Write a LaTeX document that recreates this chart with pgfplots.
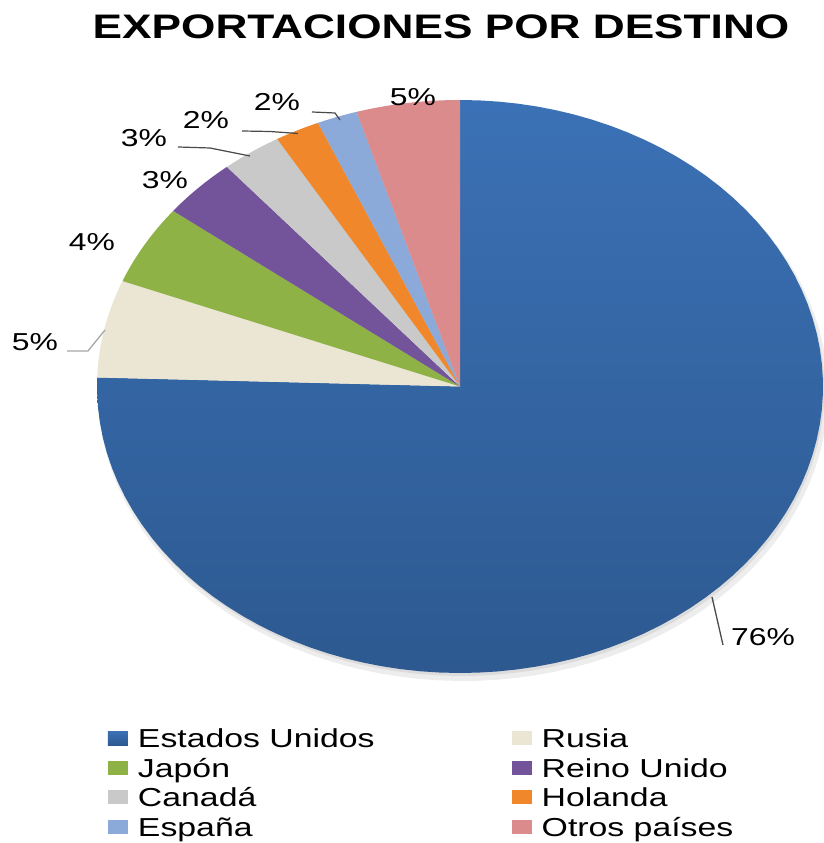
\documentclass[border=0pt]{standalone}
\usepackage{fontspec}
\setmainfont{Liberation Sans}[FakeStretch=1.3]
\usepackage{pgfplots}
\pgfplotsset{compat=1.18}

\definecolor{cUS}{HTML}{3B71B6}
\definecolor{cUSd}{HTML}{2D5990}
\definecolor{cRU}{HTML}{EAE6D3}
\definecolor{cJP}{HTML}{8EB246}
\definecolor{cUK}{HTML}{73549A}
\definecolor{cCA}{HTML}{C9C9C9}
\definecolor{cHO}{HTML}{F0872B}
\definecolor{cES}{HTML}{8BA9D9}
\definecolor{cOT}{HTML}{DB8B8B}
\definecolor{lead}{HTML}{4A4A4A}

% shares of the slices (percent), clockwise from 12 o'clock
\def\vUS{75.5}
\def\vRU{5.5}
\def\vJP{4.5}
\def\vUK{3.4}
\def\vCA{2.7}
\def\vHO{2.0}
\def\vES{1.8}
\def\vOT{4.6}

\pgfmathsetmacro\aO{90}
\pgfmathsetmacro\aA{\aO-3.6*\vUS}
\pgfmathsetmacro\aB{\aA-3.6*\vRU}
\pgfmathsetmacro\aC{\aB-3.6*\vJP}
\pgfmathsetmacro\aD{\aC-3.6*\vUK}
\pgfmathsetmacro\aE{\aD-3.6*\vCA}
\pgfmathsetmacro\aF{\aE-3.6*\vHO}
\pgfmathsetmacro\aG{\aF-3.6*\vES}
\pgfmathsetmacro\aH{\aG-3.6*\vOT}

\def\cx{460}
\def\cy{456.5}
\def\rx{363}
\def\ry{286.5}

\newcommand\slice[3]{%
  \addplot[#1, draw=none, domain=#3:#2, samples=90, variable=\t]
    ({\cx+\rx*cos(\t)},{\cy+\ry*sin(\t)}) -- (axis cs:\cx,\cy) -- cycle;}

\begin{document}
\begin{tikzpicture}
\begin{axis}[
  at={(0,0)}, anchor=south west,
  scale only axis, width=823pt, height=843pt,
  xmin=0, xmax=823, ymin=0, ymax=843,
  hide axis, clip=false,
  legend columns=2,
  legend cell align=left,
  legend image code/.code={\fill[#1] (0pt,-7pt) rectangle (20pt,7pt);},
  legend style={at={(0.1312,0.1353)}, anchor=north west,
    draw=none, fill=none, inner sep=0pt, outer sep=0pt,
    row sep=10.9pt,
    nodes={inner sep=0pt, text height=18.6pt, text depth=0pt,
      font=\fontsize{26}{30}\selectfont},
    /tikz/every odd column/.append style={column sep=10pt},
    /tikz/every even column/.append style={column sep=137pt}},
]
% soft shadow
\addplot[forget plot, fill=black, fill opacity=0.07, draw=none, domain=0:360, samples=120, variable=\t]
  ({\cx+3+(\rx+2)*cos(\t)},{\cy-6+(\ry+2)*sin(\t)}) -- cycle;
\addplot[forget plot, fill=black, fill opacity=0.07, draw=none, domain=0:360, samples=120, variable=\t]
  ({\cx+1.5+\rx*cos(\t)},{\cy-3+\ry*sin(\t)}) -- cycle;

\slice{top color=cUS, bottom color=cUSd}{\aO}{\aA}
\addlegendentry{Estados Unidos}
\slice{fill=cRU}{\aA}{\aB}
\addlegendentry{Rusia}
\slice{fill=cJP}{\aB}{\aC}
\addlegendentry{Japón}
\slice{fill=cUK}{\aC}{\aD}
\addlegendentry{Reino Unido}
\slice{fill=cCA}{\aD}{\aE}
\addlegendentry{Canadá}
\slice{fill=cHO}{\aE}{\aF}
\addlegendentry{Holanda}
\slice{fill=cES}{\aF}{\aG}
\addlegendentry{España}
\slice{fill=cOT}{\aG}{\aH}
\addlegendentry{Otros países}

% leader lines
\addplot[forget plot, lead, line width=1.3pt] coordinates {(712,246) (723,198)};
\addplot[forget plot, gray!70, line width=1.3pt] coordinates {(67,492) (88,492) (105,513)};
\addplot[forget plot, lead, line width=1.2pt] coordinates {(178,696) (210,695) (250,687)};
\addplot[forget plot, lead, line width=1.2pt] coordinates {(242,712) (270,711.5) (298,709.5)};
\addplot[forget plot, lead, line width=1.2pt] coordinates {(312,731) (335,730) (340,723)};

% data labels
\begin{scope}[every node/.style={inner sep=0pt, font=\fontsize{24.5}{28}\selectfont, text=black}]
\node at (axis cs:763,205.5) {76\%};
\node at (axis cs:35,501) {5\%};
\node at (axis cs:92,601) {4\%};
\node at (axis cs:165,663) {3\%};
\node at (axis cs:144,705) {3\%};
\node at (axis cs:206,723) {2\%};
\node at (axis cs:277,741) {2\%};
\node at (axis cs:413,746) {5\%};
\end{scope}

\node[inner sep=0pt, font=\fontsize{34}{40}\selectfont\bfseries] at (axis cs:441,816.5) {EXPORTACIONES POR DESTINO};
\end{axis}
\pgfresetboundingbox
\path (0,0) rectangle (823pt,843pt);
\end{tikzpicture}
\end{document}
